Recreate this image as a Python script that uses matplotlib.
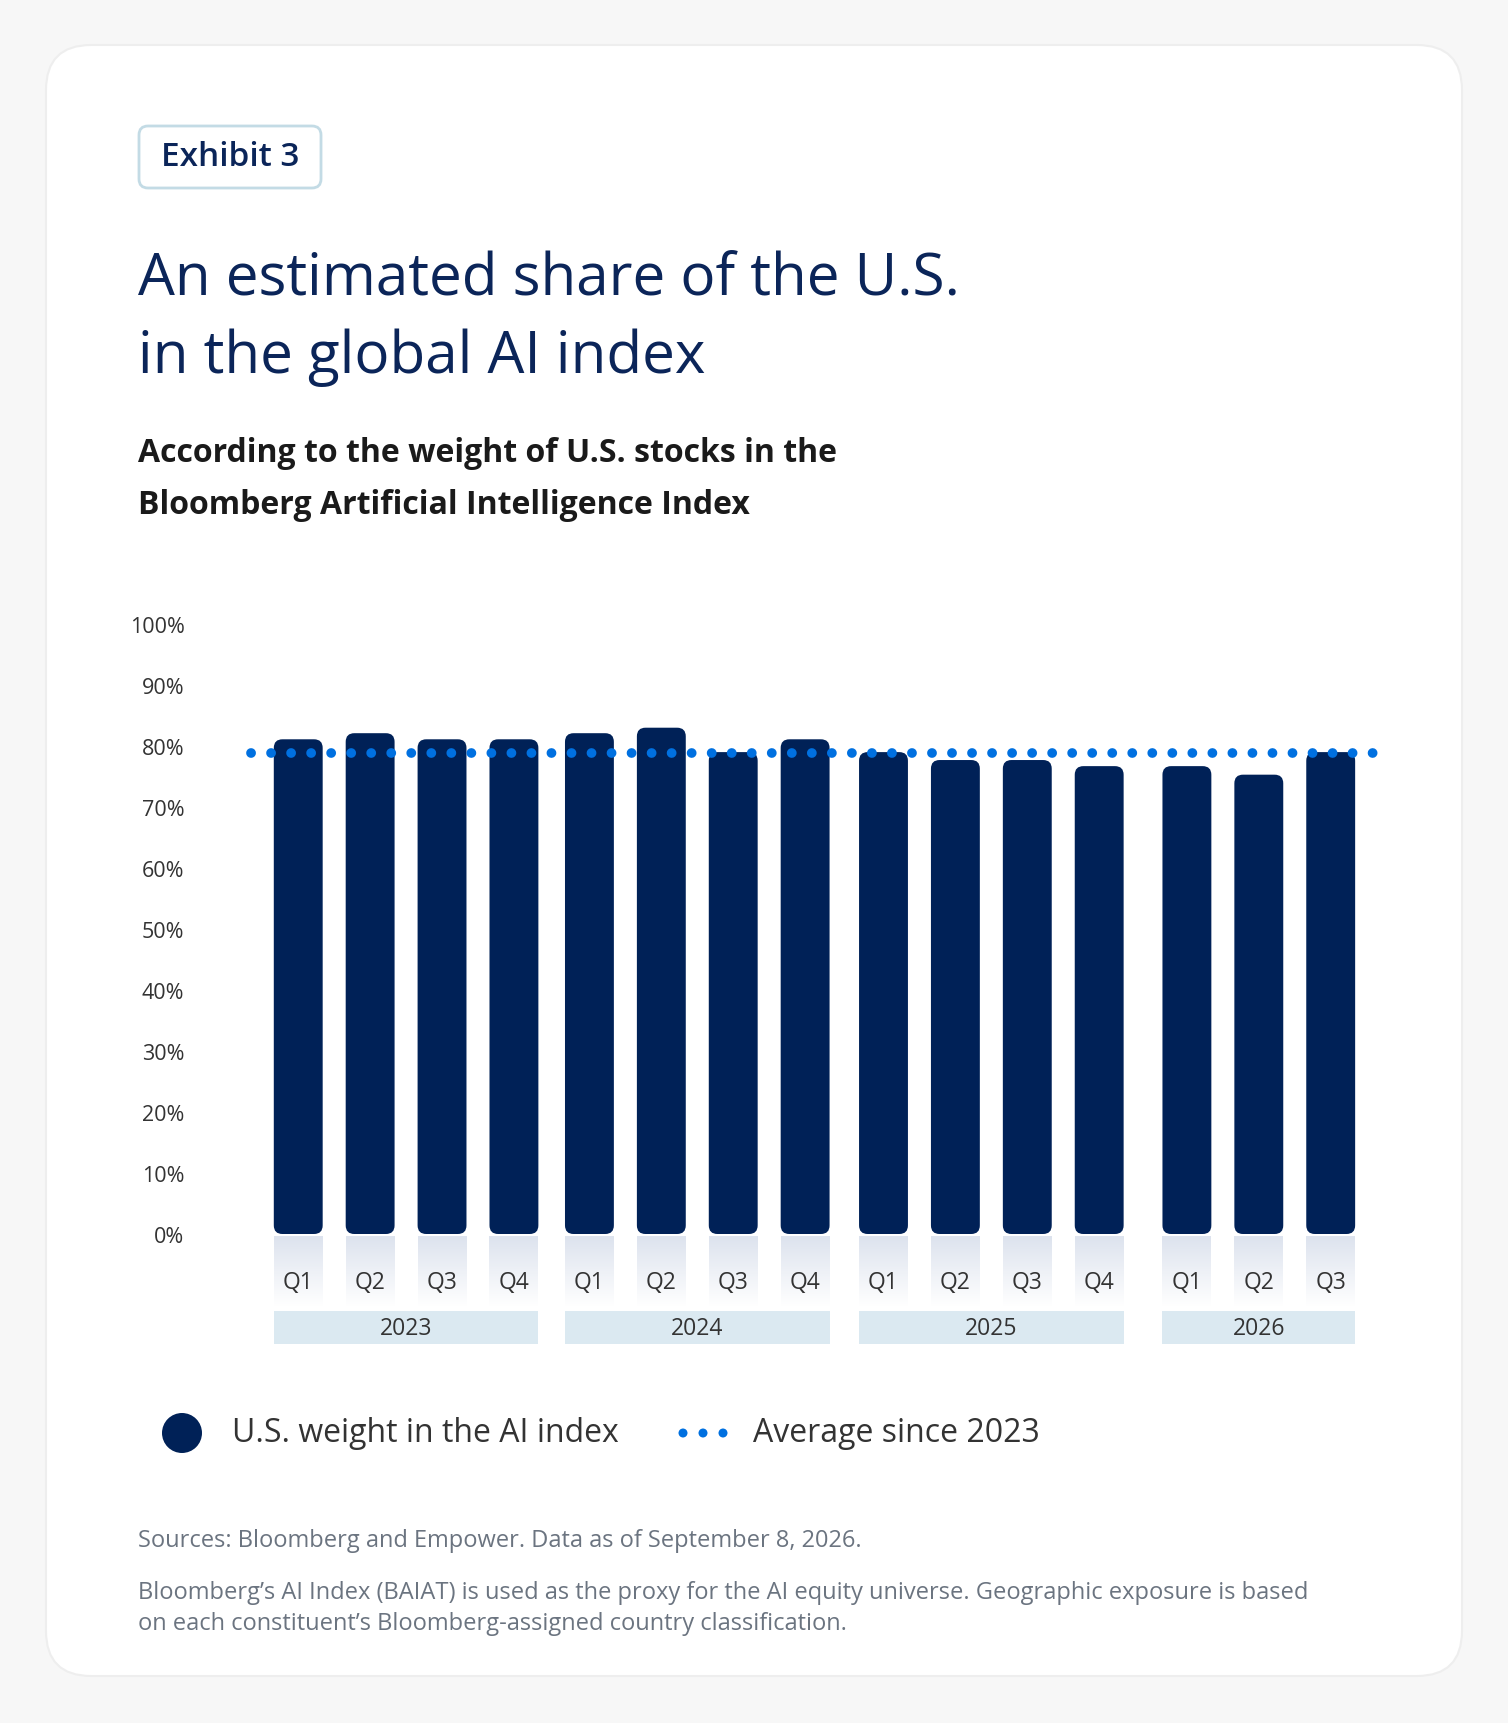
import matplotlib
matplotlib.use("Agg")
import matplotlib.pyplot as plt
from matplotlib.patches import FancyBboxPatch, Rectangle, Ellipse
from matplotlib.colors import LinearSegmentedColormap
import numpy as np

quarters = ["Q1","Q2","Q3","Q4","Q1","Q2","Q3","Q4","Q1","Q2","Q3","Q4","Q1","Q2","Q3"]
years = ["2023","2024","2025","2026"]
year_of_bar = [0,0,0,0,1,1,1,1,2,2,2,2,3,3,3]
us_weight = [81.1,82.1,81.1,81.1,82.1,83.0,79.0,81.1,79.0,77.7,77.7,76.7,76.7,75.3,79.0]
average = 78.9
yticks = [0,10,20,30,40,50,60,70,80,90,100]

NAVY = "#002157"
DOT = "#0070e0"
TXT = "#333333"
TITLE = "#0b2559"
GREY = "#6b7480"
YEARBOX = "#dbe9f1"
FONT = ["Open Sans", "DejaVu Sans"]
plt.rcParams["font.family"] = FONT

W, H = 1508, 1724
fig = plt.figure(figsize=(W/100, H/100), dpi=100)
fig.patch.set_facecolor("#f7f7f7")

def fx(px): return px / W
def fy(py): return 1 - py / H

card = FancyBboxPatch((fx(46), fy(1677)), fx(1462-46), (1677-46)/H,
                      boxstyle="round,pad=0,rounding_size=0.03", transform=fig.transFigure,
                      facecolor="white", edgecolor="#eeeeee", lw=1.5, mutation_aspect=W/H,
                      zorder=-10)
fig.patches.append(card)

tag = FancyBboxPatch((fx(139), fy(189)), fx(321-139), (189-127)/H,
                     boxstyle="round,pad=0,rounding_size=0.006", transform=fig.transFigure,
                     facecolor="white", edgecolor="#c3dbe5", lw=2, mutation_aspect=W/H,
                     zorder=-5)
fig.patches.append(tag)
fig.text(fx(230), fy(158), "Exhibit 3", ha="center", va="center", fontsize=24,
         fontweight="semibold", color=TITLE)

fig.text(fx(138), fy(280), "An estimated share of the U.S.", ha="left", va="center",
         fontsize=42, color=TITLE)
fig.text(fx(138), fy(358), "in the global AI index", ha="left", va="center",
         fontsize=42, color=TITLE)
fig.text(fx(138), fy(453), "According to the weight of U.S. stocks in the", ha="left",
         va="center", fontsize=23, fontweight="bold", color="#1a1a1a")
fig.text(fx(138), fy(505), "Bloomberg Artificial Intelligence Index", ha="left",
         va="center", fontsize=23, fontweight="bold", color="#1a1a1a")

ax_l, ax_r = 240, 1376
ax_b, ax_t = 1235, 625
ax = fig.add_axes([fx(ax_l), fy(ax_b), fx(ax_r-ax_l), (ax_b-ax_t)/H])
ax.set_facecolor("none")
offsets = [0, 0.05, 0.14, 0.36]
xs = np.array([i + offsets[g] for i, g in enumerate(year_of_bar)])
xmin, xmax = -0.81, 14.99
bw = 0.68
asp = (100/(ax_b-ax_t)) / ((xmax-xmin)/(ax_r-ax_l))
for x, v in zip(xs, us_weight):
    p = FancyBboxPatch((x-bw/2, 0), bw, v, boxstyle="round,pad=0,rounding_size=0.12",
                       mutation_aspect=asp, facecolor=NAVY, edgecolor="none", zorder=2)
    ax.add_patch(p)
ax.plot([-0.66, 14.95], [average, average], linestyle=(0, (0.01, 2.05)), lw=7,
        dash_capstyle="round", color=DOT, zorder=3, clip_on=False)
cm = LinearSegmentedColormap.from_list("f", ["#dde3ee", "#ffffff"])
grad = np.linspace(0, 1, 50).reshape(-1, 1)
for x in xs:
    ax.imshow(grad, extent=(x-bw/2, x+bw/2, -12, -0.5), origin="upper", cmap=cm,
              aspect="auto", zorder=1, clip_on=False)
ax.set_xlim(xmin, xmax)
ax.set_ylim(0, 100)
ax.set_yticks(yticks)
ax.set_yticklabels([f"{t}%" for t in yticks], fontsize=15.5, color=TXT)
ax.tick_params(axis="y", length=0, pad=40)
ax.set_xticks([])
for s in ax.spines.values():
    s.set_visible(False)

trans = matplotlib.transforms.blended_transform_factory(ax.transData, fig.transFigure)
for x, q in zip(xs, quarters):
    fig.text(x, fy(1283), q, transform=trans, ha="center", va="center",
             fontsize=16.5, color=TXT)
for g, y in enumerate(years):
    gx = xs[[i for i, yy in enumerate(year_of_bar) if yy == g]]
    x0 = gx.min()-bw/2
    x1 = gx.max()+bw/2 if g == 3 else x0 + 3 + bw
    r = Rectangle((x0, fy(1345)), x1-x0, (1345-1312)/H, transform=trans,
                  facecolor=YEARBOX, edgecolor="none", zorder=1)
    fig.patches.append(r)
    fig.text((x0+x1)/2, fy(1329), y, transform=trans, ha="center", va="center",
             fontsize=16.5, color=TXT)

fig.patches.append(Ellipse((fx(182), fy(1434)), 40/W, 40/H, transform=fig.transFigure,
                   facecolor=NAVY, edgecolor="none", zorder=1))
fig.text(fx(232), fy(1434), "U.S. weight in the AI index", ha="left", va="center",
         fontsize=23, color=TXT)
for dx in [683, 703, 723]:
    fig.patches.append(Ellipse((fx(dx), fy(1434)), 9/W, 9/H,
                       transform=fig.transFigure, facecolor=DOT, edgecolor="none", zorder=1))
fig.text(fx(753), fy(1434), "Average since 2023", ha="left", va="center",
         fontsize=23, color=TXT)

fig.text(fx(138), fy(1541), "Sources: Bloomberg and Empower. Data as of September 8, 2026.",
         ha="left", va="center", fontsize=17, color=GREY)
fig.text(fx(138), fy(1593), "Bloomberg’s AI Index (BAIAT) is used as the proxy for the AI equity universe. Geographic exposure is based",
         ha="left", va="center", fontsize=17, color=GREY)
fig.text(fx(138), fy(1624), "on each constituent’s Bloomberg-assigned country classification.",
         ha="left", va="center", fontsize=17, color=GREY)

fig.savefig("out.png", dpi=100, facecolor=fig.get_facecolor())
